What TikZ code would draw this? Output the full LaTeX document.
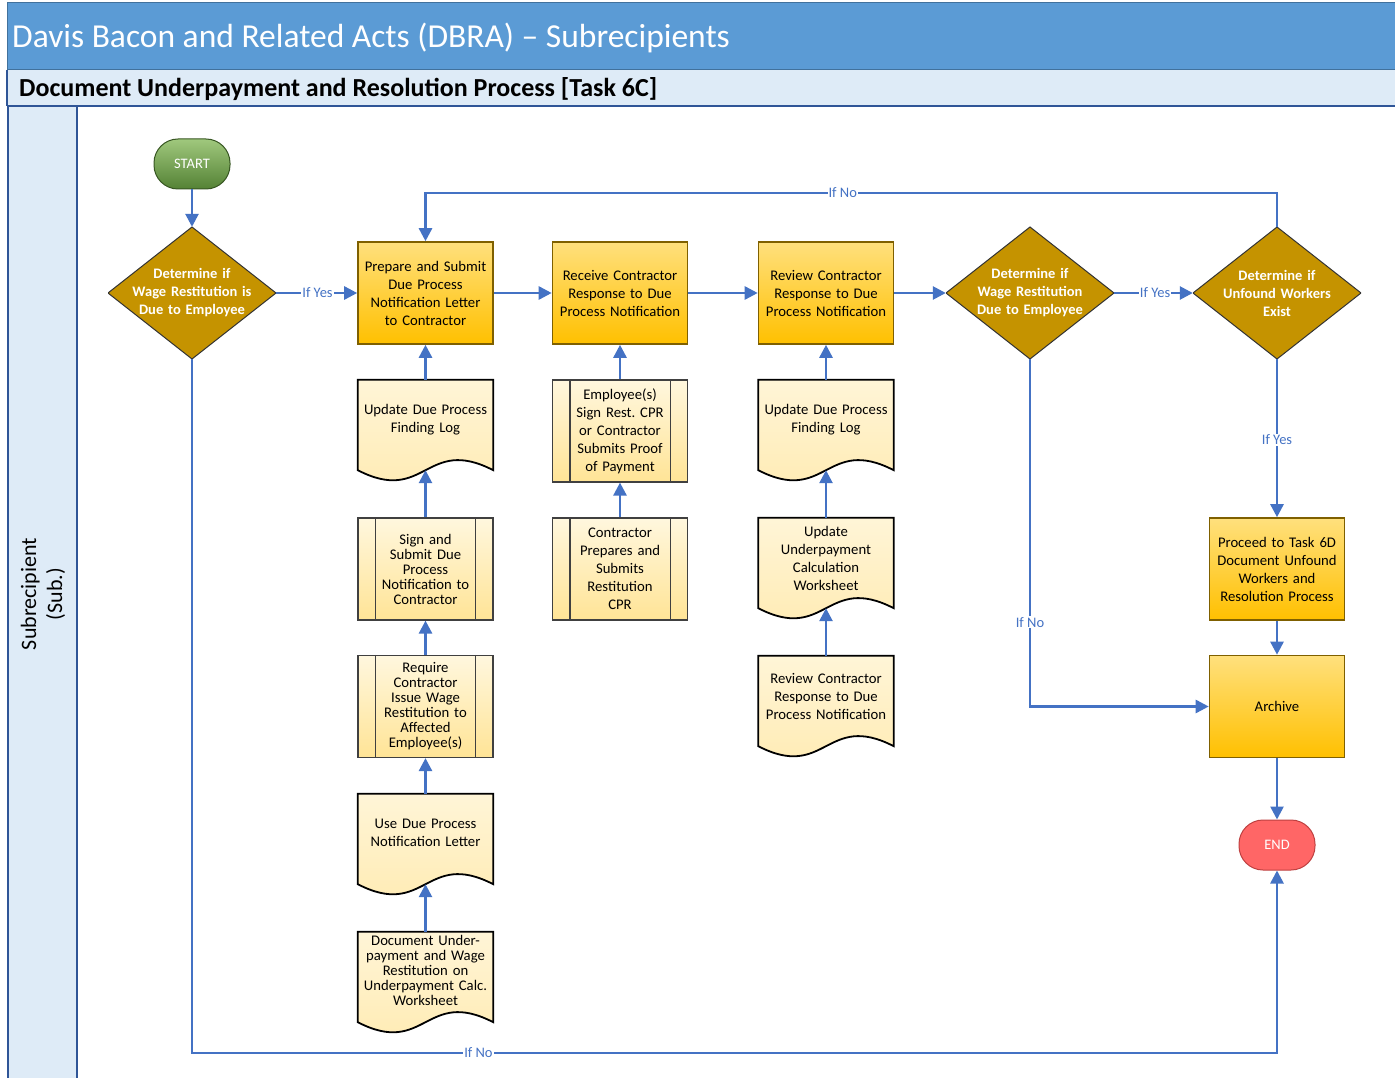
\documentclass[tikz,border=0pt]{standalone}
\usepackage{fontspec}
\setmainfont{Carlito}
\frenchspacing
\usetikzlibrary{arrows.meta,calc,backgrounds}

\definecolor{titleblue}{RGB}{91,155,213}
\definecolor{titleedge}{RGB}{65,113,156}
\definecolor{paleblue}{RGB}{222,235,247}
\definecolor{laneline}{RGB}{47,85,151}
\definecolor{flow}{RGB}{68,114,196}
\definecolor{gold}{RGB}{197,147,0}
\definecolor{procTop}{RGB}{255,224,125}
\definecolor{procBot}{RGB}{255,192,0}
\definecolor{procEdge}{RGB}{127,96,0}
\definecolor{docTop}{RGB}{255,245,215}
\definecolor{docBot}{RGB}{255,234,175}
\definecolor{preTop}{RGB}{255,247,222}
\definecolor{preBot}{RGB}{255,228,150}
\definecolor{startTop}{RGB}{160,200,125}
\definecolor{startBot}{RGB}{84,130,53}
\definecolor{startEdge}{RGB}{56,87,35}
\definecolor{endFill}{RGB}{255,102,102}
\definecolor{endEdge}{RGB}{190,65,65}

\tikzset{
  txt/.style={font=\fontsize{14.7}{18}\selectfont, align=center},
  tight/.style={font=\fontsize{14.7}{15}\selectfont},
  proc/.style={rectangle, draw=procEdge, line width=1.6pt, top color=procTop,
    bottom color=procBot, minimum width=135, minimum height=102, text width=130,
    inner sep=0pt, txt},
  predef/.style={rectangle, draw=black!75, line width=1.2pt, top color=preTop,
    bottom color=preBot, minimum width=135, minimum height=102, text width=99,
    inner sep=0pt, txt},
  docnode/.style={rectangle, minimum width=135, minimum height=90, inner sep=0pt},
  doctext/.style={txt, text width=132, inner sep=0pt},
  docshape/.style={draw=black, line width=1.8pt, top color=docTop, bottom color=docBot},
  decision/.style={rectangle, minimum width=168, minimum height=132, inner sep=0pt,
    text width=150, align=center, text=white,
    font=\bfseries\fontsize{14.5}{18}\selectfont,
    path picture={
      \path[fill=gold, draw=black!80, line width=1pt]
        (path picture bounding box.north) -- (path picture bounding box.east)
        -- (path picture bounding box.south) -- (path picture bounding box.west) -- cycle;}},
  terminal/.style={rectangle, rounded corners=24pt, minimum width=76, minimum height=50,
    inner sep=0pt, text=white, font=\fontsize{14.5}{16}\selectfont},
  flowline/.style={draw=flow, line width=2.6pt, -{Triangle[length=13pt,width=13pt]}},
  lbl/.style={fill=white, text=flow, inner sep=1pt, font=\fontsize{14.5}{16}\selectfont},
}

\begin{document}
\begin{tikzpicture}[x=1pt,y=-1pt]
\useasboundingbox (0,0) rectangle (1395,1078);

% header bars and swimlane
\begin{scope}[on background layer]
  \fill[white] (0,0) rectangle (1395,1078);
  \path[fill=titleblue, draw=titleedge, line width=1pt] (7,3) rectangle (1400,70);
  \path[fill=paleblue] (7,70) rectangle (1400,106);
  \draw[laneline, line width=1.5pt] (7,70) -- (7,106);
  \draw[laneline, line width=2pt] (7,106) -- (1400,106);
  \path[fill=paleblue, draw=laneline, line width=2pt] (8,106) rectangle (77,1090);
\end{scope}

\node[anchor=west, text=white, font=\fontsize{33.5}{36}\selectfont, inner sep=0pt] (title) at (12,38)
  {Davis Bacon and Related Acts (DBRA) -- Subrecipients};
\node[anchor=west, font=\bfseries\fontsize{26}{28}\selectfont, inner sep=0pt] (subtitle) at (19,89)
  {Document Underpayment and Resolution Process [Task 6C]};
\node[rotate=90, align=center, font=\fontsize{22}{26}\selectfont] (lane) at (43,594)
  {Subrecipient\\(Sub.)};

% terminals
\node[terminal, top color=startTop, bottom color=startBot, draw=startEdge, line width=1pt] (start) at (192,164) {START};
\node[terminal, fill=endFill, draw=endEdge, line width=1pt] (end) at (1277,845) {END};

% decisions
\node[decision] (d1) at (192,293) {Determine if\\Wage Restitution is\\Due to Employee};
\node[decision] (d2) at (1030,293) {Determine if\\Wage Restitution\\Due to Employee};
\node[decision] (d3) at (1277,293) {Determine if\\Unfound Workers\\Exist};

% process steps
\node[proc] (p1) at (425.5,293) {Prepare and Submit\\Due Process\\Notification Letter\\to Contractor};
\node[proc] (p2) at (620,293) {Receive Contractor\\Response to Due\\Process Notification};
\node[proc] (p3) at (826,293) {Review Contractor\\Response to Due\\Process Notification};
\node[proc] (p4) at (1277,569) {Proceed to Task 6D\\Document Unfound\\Workers and\\Resolution Process};
\node[proc] (p5) at (1277,706.5) {Archive};

% predefined sub-processes
\node[predef, tight] (pre1) at (425.5,569) {Sign and\\Submit Due\\Process\\Notification to\\Contractor};
\node[predef, tight] (pre4) at (425.5,706.5) {Require\\Contractor\\Issue Wage\\Restitution to\\Affected\\Employee(s)};
\node[predef] (pre2) at (620,431) {Employee(s)\\Sign Rest. CPR\\or Contractor\\Submits Proof\\of Payment};
\node[predef] (pre3) at (620,569) {Contractor\\Prepares and\\Submits\\Restitution\\CPR};
\foreach \n in {pre1,pre2,pre3,pre4} {
  \draw[black!75, line width=1.2pt] ($(\n.north west)+(18,0)$) -- ($(\n.south west)+(18,0)$);
  \draw[black!75, line width=1.2pt] ($(\n.north east)+(-18,0)$) -- ($(\n.south east)+(-18,0)$);
}

% documents (south anchor sits on the middle of the wavy edge)
\node[docnode, label={[doctext, yshift=5pt]center:{Update Due Process\\Finding Log}}] (doc1) at (425.5,425) {};
\node[docnode, label={[doctext, yshift=6pt]center:{Use Due Process\\Notification Letter}}] (doc5) at (425.5,839) {};
\node[docnode, label={[doctext, tight, yshift=7pt]center:{Document Under-\\payment and Wage\\Restitution on\\Underpayment Calc.\\Worksheet}}] (doc6) at (425.5,977) {};
\node[docnode, label={[doctext, yshift=5pt]center:{Update Due Process\\Finding Log}}] (doc2) at (826,425) {};
\node[docnode, label={[doctext, yshift=5pt]center:{Update\\Underpayment\\Calculation\\Worksheet}}] (doc3) at (826,563) {};
\node[docnode, label={[doctext, yshift=5pt]center:{Review Contractor\\Response to Due\\Process Notification}}] (doc4) at (826,701) {};
\begin{scope}[on background layer]
  \foreach \n in {doc1,doc2,doc3,doc4,doc5,doc6} {
    \path[docshape] (\n.north west) -- (\n.north east) -- (\n.south east)
      .. controls ($(\n.south)+(0,-35)$) and ($(\n.south)+(0,35)$) .. (\n.south west) -- cycle;
  }
\end{scope}

% main flow
\draw[flowline] (start) -- (d1);
\draw[flowline] (d1) -- node[lbl, pos=0.51] {If Yes} (p1);
\draw[flowline] (p1) -- (p2);
\draw[flowline] (p2) -- (p3);
\draw[flowline] (p3) -- (d2);
\draw[flowline] (d2) -- node[lbl, pos=0.52] {If Yes} (d3);
\coordinate (looptop) at (0,193);
\draw[flowline] (d3.north) |- node[lbl, pos=0.755] {If No} (looptop -| p1.north) -- (p1.north);
\draw[flowline] (d3.south) -- node[lbl, pos=0.51] {If Yes} (p4.north);
\draw[flowline] (p4) -- (p5);
\draw[flowline] (d2.south) |- node[lbl, pos=0.379] {If No} (p5.west);
\draw[flowline] (p5) -- (end);
\coordinate (loopbottom) at (0,1053);
\draw[flowline] (d1.south) |- node[lbl, pos=0.632] {If No} (loopbottom -| end.south) -- (end.south);

% supporting inputs, feeding upward
\draw[flowline] (doc1.north) -- (p1.south);
\draw[flowline] (pre1.north) -- (doc1.south);
\draw[flowline] (pre4.north) -- (pre1.south);
\draw[flowline] (doc5.north) -- (pre4.south);
\draw[flowline] (doc6.north) -- (doc5.south);
\draw[flowline] (pre2.north) -- (p2.south);
\draw[flowline] (pre3.north) -- (pre2.south);
\draw[flowline] (doc2.north) -- (p3.south);
\draw[flowline] (doc3.north) -- (doc2.south);
\draw[flowline] (doc4.north) -- (doc3.south);
\end{tikzpicture}
\end{document}
